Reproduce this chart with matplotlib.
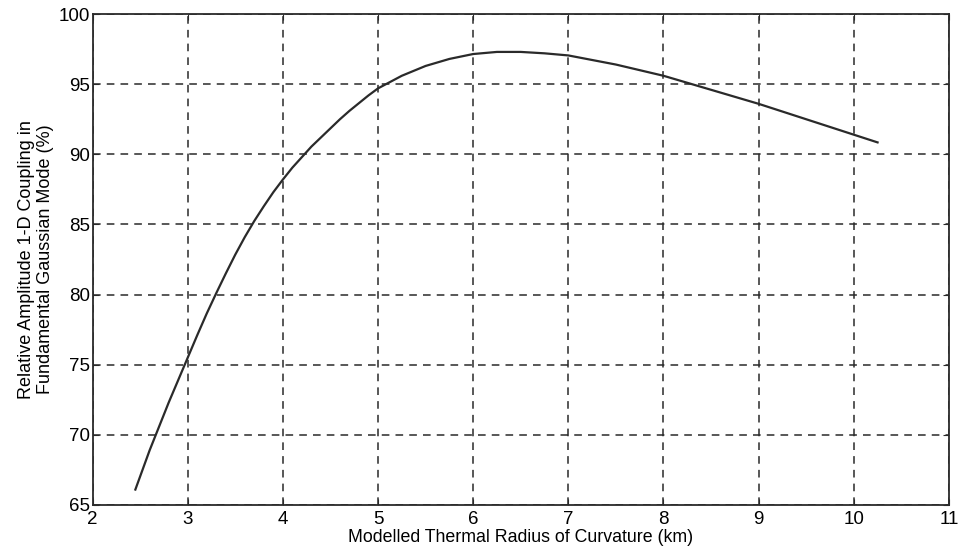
import numpy as np
import matplotlib.pyplot as plt

plt.rcParams['font.family'] = ['Liberation Sans', 'DejaVu Sans']

# curve
radius_km = [2.45, 2.6, 2.8, 3.0, 3.1, 3.2, 3.3, 3.4, 3.5, 3.6, 3.7, 3.8, 3.9,
             4.0, 4.1, 4.2, 4.3, 4.4, 4.5, 4.6, 4.7, 4.8, 4.9, 5.0, 5.25, 5.5,
             5.75, 6.0, 6.25, 6.5, 6.75, 7.0, 7.5, 8.0, 8.5, 9.0, 9.5, 10.0,
             10.25]
coupling = [66.1, 68.9, 72.3, 75.5, 77.1, 78.65, 80.1, 81.5, 82.85, 84.1, 85.25,
            86.3, 87.3, 88.2, 89.05, 89.8, 90.55, 91.2, 91.85, 92.5, 93.1,
            93.65, 94.2, 94.7, 95.6, 96.3, 96.8, 97.15, 97.3, 97.3, 97.2, 97.05,
            96.4, 95.6, 94.6, 93.6, 92.5, 91.4, 90.85]

xticks = list(range(2, 12))
yticks = list(range(65, 101, 5))

fig = plt.figure(figsize=(9.59, 5.51), dpi=100)
ax = fig.add_axes([0.0965, 0.0835, 0.893, 0.891])

ax.plot(radius_km, coupling, color='#2a2a2a', lw=1.6)

ax.set_xlim(2, 11)
ax.set_ylim(65, 100)
ax.set_xticks(xticks)
ax.set_yticks(yticks)
ax.grid(True, color='#2a2a2a', linestyle=(0, (5, 4)), lw=1.1)
ax.tick_params(direction='in', length=4, top=True, right=True, labelsize=13.5,
               color='#2a2a2a')
ax.tick_params(axis='x', pad=4)
ax.tick_params(axis='y', pad=2)
for s in ax.spines.values():
    s.set_color('#2a2a2a')
    s.set_linewidth(1.3)

ax.set_xlabel('Modelled Thermal Radius of Curvature (km)', fontsize=12.8, labelpad=1)
ax.set_ylabel('Relative Amplitude 1-D Coupling in\nFundamental Gaussian Mode (%)',
              fontsize=13, labelpad=3, linespacing=1.15)

fig.savefig('out.png', dpi=100)
